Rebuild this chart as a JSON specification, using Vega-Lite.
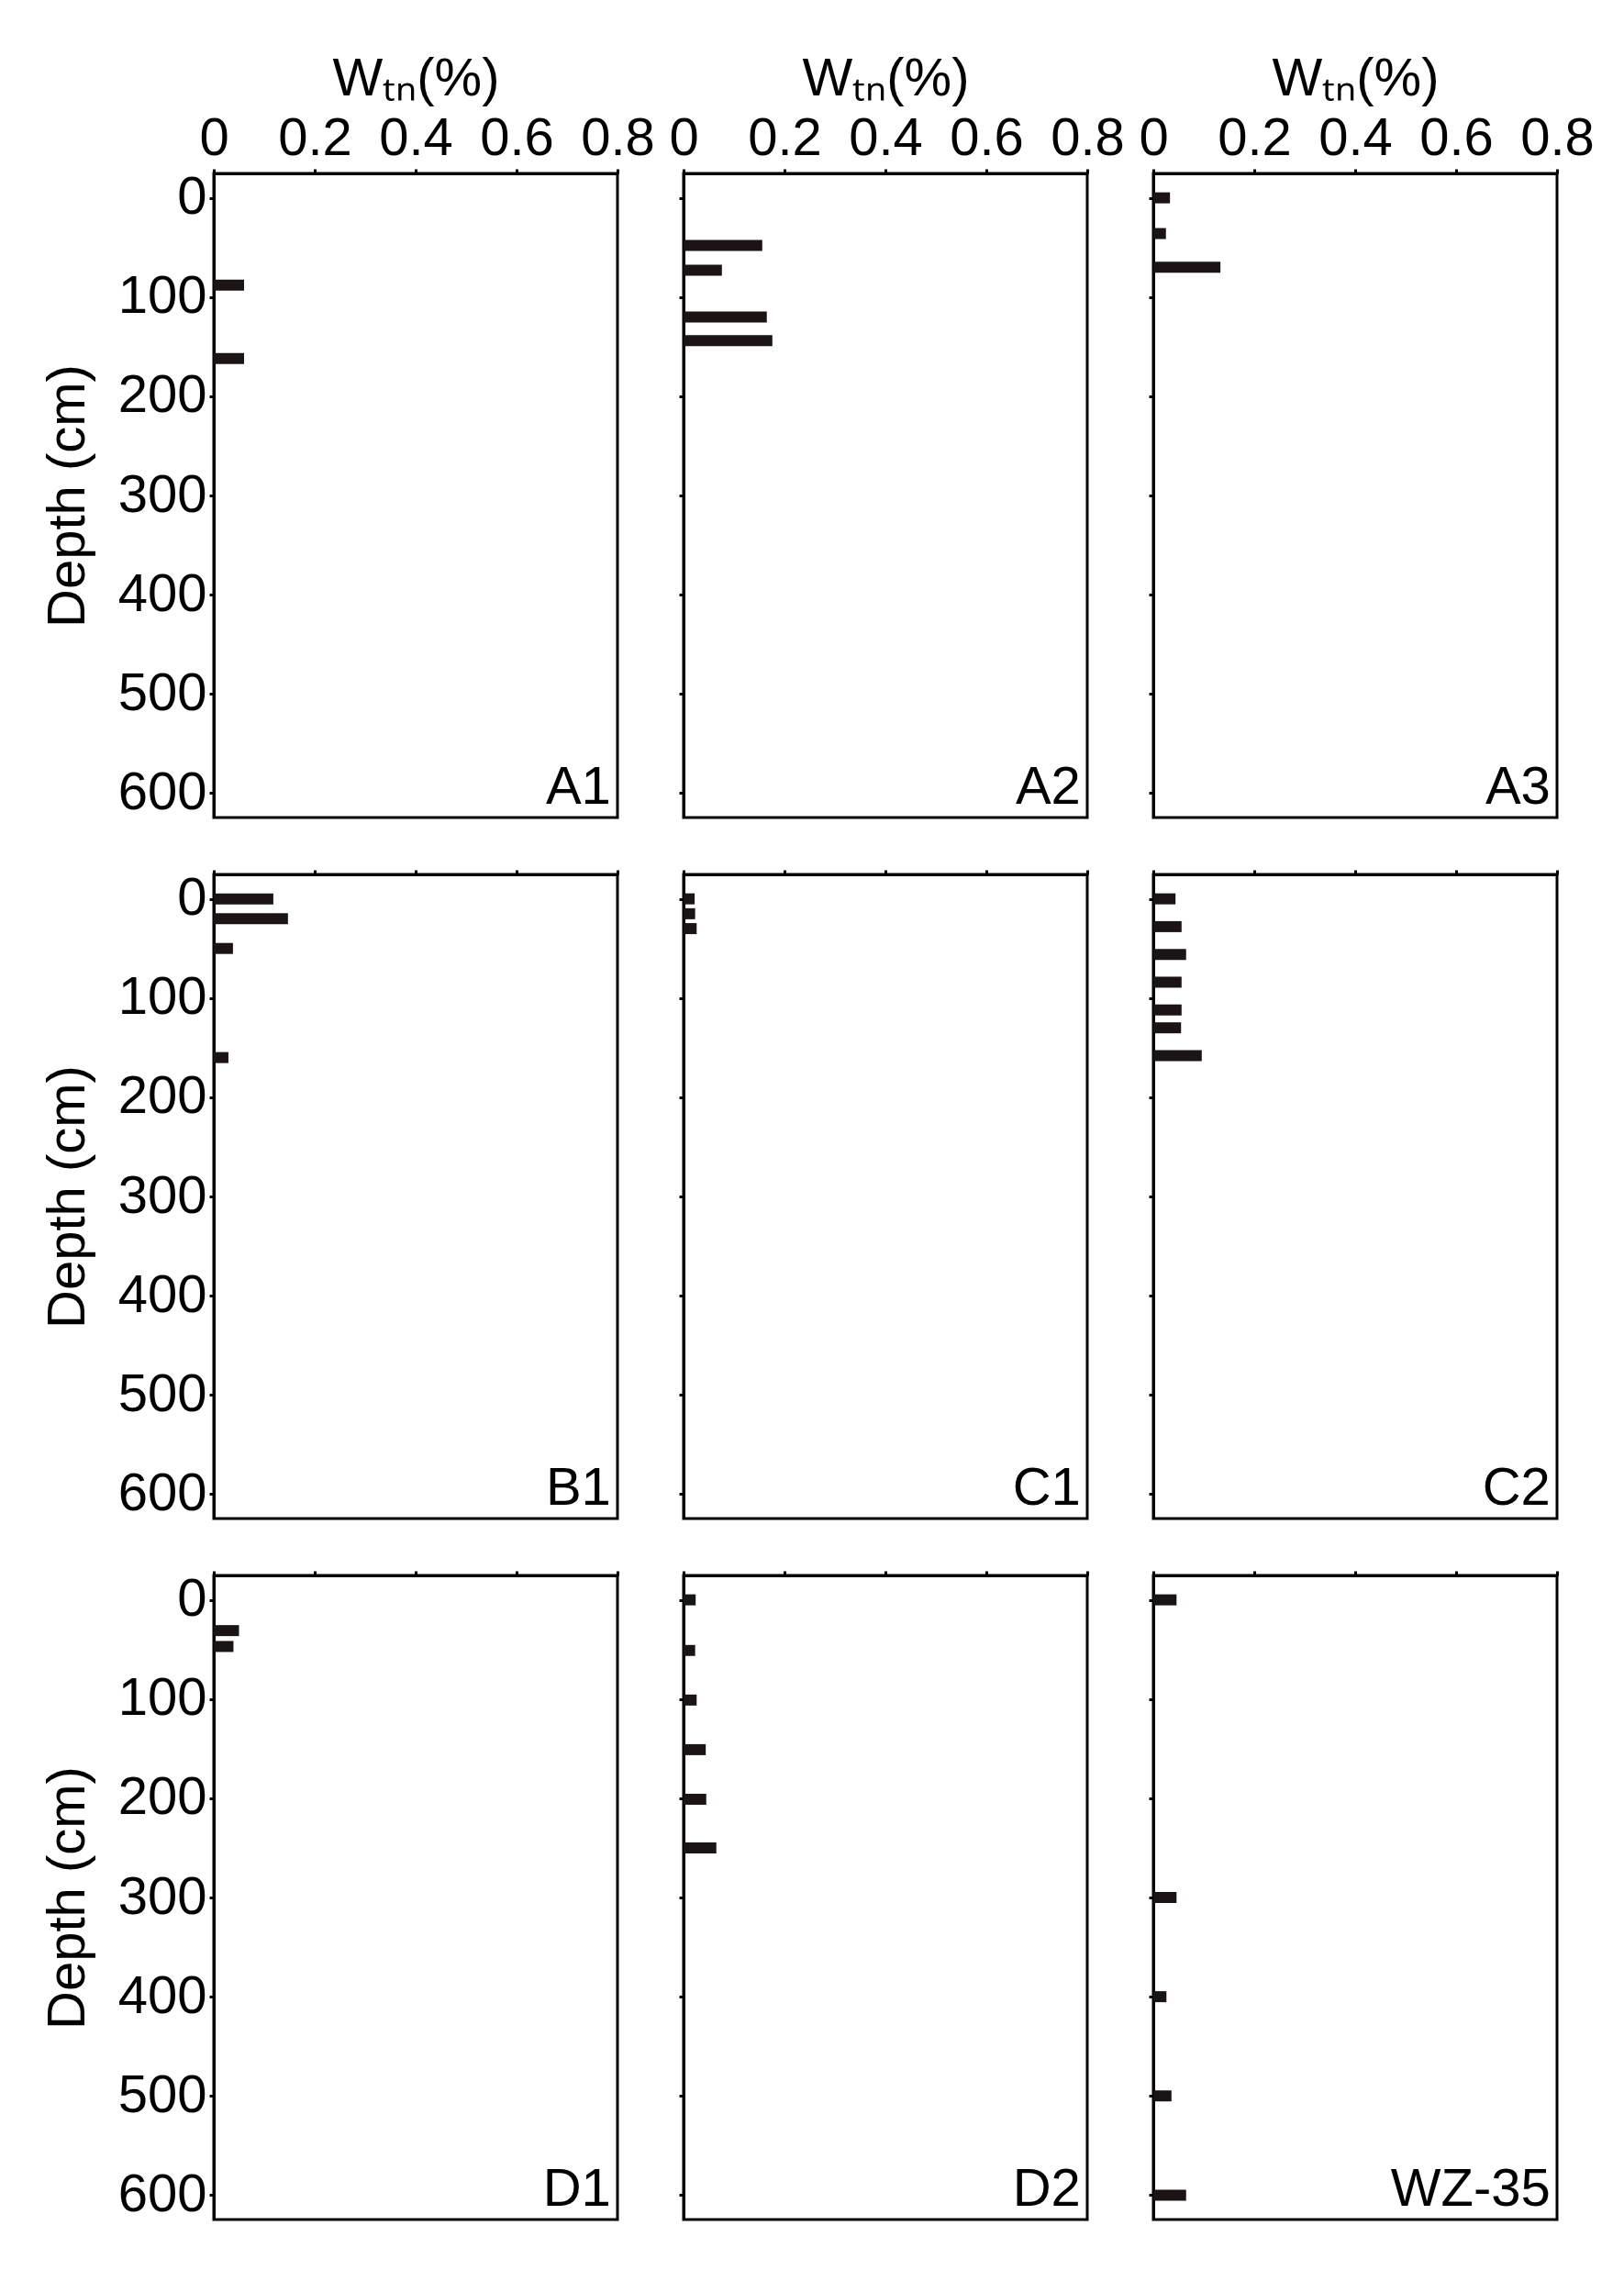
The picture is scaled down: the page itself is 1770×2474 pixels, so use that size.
{
  "$schema": "https://vega.github.io/schema/vega-lite/v6.json",
  "padding": {"left": 43, "top": 55, "right": 5, "bottom": 5},
  "background": "white",
  "datasets": {
    "bars": [
      {"core": "A1", "depth": 88, "wtn": 0.06},
      {"core": "A1", "depth": 162, "wtn": 0.06},
      {"core": "A2", "depth": 48, "wtn": 0.156},
      {"core": "A2", "depth": 73, "wtn": 0.076},
      {"core": "A2", "depth": 120, "wtn": 0.165},
      {"core": "A2", "depth": 144, "wtn": 0.176},
      {"core": "A3", "depth": 0, "wtn": 0.033},
      {"core": "A3", "depth": 36, "wtn": 0.025},
      {"core": "A3", "depth": 70, "wtn": 0.133},
      {"core": "B1", "depth": 0, "wtn": 0.118},
      {"core": "B1", "depth": 20, "wtn": 0.147},
      {"core": "B1", "depth": 50, "wtn": 0.038},
      {"core": "B1", "depth": 160, "wtn": 0.029},
      {"core": "C1", "depth": 0, "wtn": 0.022},
      {"core": "C1", "depth": 15, "wtn": 0.023},
      {"core": "C1", "depth": 30, "wtn": 0.026},
      {"core": "C2", "depth": 0, "wtn": 0.044},
      {"core": "C2", "depth": 28, "wtn": 0.056},
      {"core": "C2", "depth": 56, "wtn": 0.065},
      {"core": "C2", "depth": 84, "wtn": 0.056},
      {"core": "C2", "depth": 112, "wtn": 0.056},
      {"core": "C2", "depth": 130, "wtn": 0.055},
      {"core": "C2", "depth": 158, "wtn": 0.096},
      {"core": "D1", "depth": 31, "wtn": 0.05},
      {"core": "D1", "depth": 47, "wtn": 0.039},
      {"core": "D2", "depth": 0, "wtn": 0.024},
      {"core": "D2", "depth": 51, "wtn": 0.023},
      {"core": "D2", "depth": 101, "wtn": 0.026},
      {"core": "D2", "depth": 151, "wtn": 0.044},
      {"core": "D2", "depth": 201, "wtn": 0.045},
      {"core": "D2", "depth": 250, "wtn": 0.065},
      {"core": "WZ-35", "depth": 0, "wtn": 0.046},
      {"core": "WZ-35", "depth": 300, "wtn": 0.046},
      {"core": "WZ-35", "depth": 400, "wtn": 0.026},
      {"core": "WZ-35", "depth": 500, "wtn": 0.036},
      {"core": "WZ-35", "depth": 600, "wtn": 0.065}
    ],
    "labels": [
      {"core": "A1"}, {"core": "A2"}, {"core": "A3"},
      {"core": "B1"}, {"core": "C1"}, {"core": "C2"},
      {"core": "D1"}, {"core": "D2"}, {"core": "WZ-35"}
    ]
  },
  "columns": 3,
  "bounds": "flush",
  "spacing": {"row": 62, "column": 72},
  "concat": [
    {"width": 440, "height": 702, "layer": [
      {"data": {"name": "bars"}, "transform": [{"filter": "datum.core == 'A1'"}],
       "mark": {"type": "bar", "orient": "horizontal", "height": 12, "color": "#1c1414"},
       "encoding": {
         "x": {"field": "wtn", "type": "quantitative", "scale": {"domain": [0, 0.8], "nice": false}, "axis": {"orient": "top", "values": [0, 0.2, 0.4, 0.6, 0.8], "labelExpr": "datum.value == 0 ? '0' : format(datum.value, '.1f')", "title": "Wₜₙ(%)", "labelPadding": 4, "titlePadding": 7}},
         "y": {"field": "depth", "type": "quantitative", "scale": {"domain": [-20, 620], "reverse": true, "nice": false, "zero": false}, "axis": {"values": [0, 100, 200, 300, 400, 500, 600], "title": "Depth (cm)", "labelPadding": 3, "titlePadding": 25}}
       }},
      {"data": {"name": "labels"}, "transform": [{"filter": "datum.core == 'A1'"}],
       "mark": {"type": "text", "align": "right", "baseline": "alphabetic", "fontSize": 58, "font": "Liberation Sans", "color": "black"},
       "encoding": {"x": {"datum": 0.787, "type": "quantitative"}, "y": {"datum": 611, "type": "quantitative"}, "text": {"field": "core"}}}
    ]},
    {"width": 440, "height": 702, "layer": [
      {"data": {"name": "bars"}, "transform": [{"filter": "datum.core == 'A2'"}],
       "mark": {"type": "bar", "orient": "horizontal", "height": 12, "color": "#1c1414"},
       "encoding": {
         "x": {"field": "wtn", "type": "quantitative", "scale": {"domain": [0, 0.8], "nice": false}, "axis": {"orient": "top", "values": [0, 0.2, 0.4, 0.6, 0.8], "labelExpr": "datum.value == 0 ? '0' : format(datum.value, '.1f')", "title": "Wₜₙ(%)", "labelPadding": 4, "titlePadding": 7}},
         "y": {"field": "depth", "type": "quantitative", "scale": {"domain": [-20, 620], "reverse": true, "nice": false, "zero": false}, "axis": {"values": [0, 100, 200, 300, 400, 500, 600], "labels": false, "title": null}}
       }},
      {"data": {"name": "labels"}, "transform": [{"filter": "datum.core == 'A2'"}],
       "mark": {"type": "text", "align": "right", "baseline": "alphabetic", "fontSize": 58, "font": "Liberation Sans", "color": "black"},
       "encoding": {"x": {"datum": 0.787, "type": "quantitative"}, "y": {"datum": 611, "type": "quantitative"}, "text": {"field": "core"}}}
    ]},
    {"width": 440, "height": 702, "layer": [
      {"data": {"name": "bars"}, "transform": [{"filter": "datum.core == 'A3'"}],
       "mark": {"type": "bar", "orient": "horizontal", "height": 12, "color": "#1c1414"},
       "encoding": {
         "x": {"field": "wtn", "type": "quantitative", "scale": {"domain": [0, 0.8], "nice": false}, "axis": {"orient": "top", "values": [0, 0.2, 0.4, 0.6, 0.8], "labelExpr": "datum.value == 0 ? '0' : format(datum.value, '.1f')", "title": "Wₜₙ(%)", "labelPadding": 4, "titlePadding": 7}},
         "y": {"field": "depth", "type": "quantitative", "scale": {"domain": [-20, 620], "reverse": true, "nice": false, "zero": false}, "axis": {"values": [0, 100, 200, 300, 400, 500, 600], "labels": false, "title": null}}
       }},
      {"data": {"name": "labels"}, "transform": [{"filter": "datum.core == 'A3'"}],
       "mark": {"type": "text", "align": "right", "baseline": "alphabetic", "fontSize": 58, "font": "Liberation Sans", "color": "black"},
       "encoding": {"x": {"datum": 0.787, "type": "quantitative"}, "y": {"datum": 611, "type": "quantitative"}, "text": {"field": "core"}}}
    ]},
    {"width": 440, "height": 702, "layer": [
      {"data": {"name": "bars"}, "transform": [{"filter": "datum.core == 'B1'"}],
       "mark": {"type": "bar", "orient": "horizontal", "height": 12, "color": "#1c1414"},
       "encoding": {
         "x": {"field": "wtn", "type": "quantitative", "scale": {"domain": [0, 0.8], "nice": false}, "axis": {"orient": "top", "values": [0, 0.2, 0.4, 0.6, 0.8], "labels": false, "title": null}},
         "y": {"field": "depth", "type": "quantitative", "scale": {"domain": [-20, 620], "reverse": true, "nice": false, "zero": false}, "axis": {"values": [0, 100, 200, 300, 400, 500, 600], "title": "Depth (cm)", "labelPadding": 3, "titlePadding": 25}}
       }},
      {"data": {"name": "labels"}, "transform": [{"filter": "datum.core == 'B1'"}],
       "mark": {"type": "text", "align": "right", "baseline": "alphabetic", "fontSize": 58, "font": "Liberation Sans", "color": "black"},
       "encoding": {"x": {"datum": 0.787, "type": "quantitative"}, "y": {"datum": 611, "type": "quantitative"}, "text": {"field": "core"}}}
    ]},
    {"width": 440, "height": 702, "layer": [
      {"data": {"name": "bars"}, "transform": [{"filter": "datum.core == 'C1'"}],
       "mark": {"type": "bar", "orient": "horizontal", "height": 12, "color": "#1c1414"},
       "encoding": {
         "x": {"field": "wtn", "type": "quantitative", "scale": {"domain": [0, 0.8], "nice": false}, "axis": {"orient": "top", "values": [0, 0.2, 0.4, 0.6, 0.8], "labels": false, "title": null}},
         "y": {"field": "depth", "type": "quantitative", "scale": {"domain": [-20, 620], "reverse": true, "nice": false, "zero": false}, "axis": {"values": [0, 100, 200, 300, 400, 500, 600], "labels": false, "title": null}}
       }},
      {"data": {"name": "labels"}, "transform": [{"filter": "datum.core == 'C1'"}],
       "mark": {"type": "text", "align": "right", "baseline": "alphabetic", "fontSize": 58, "font": "Liberation Sans", "color": "black"},
       "encoding": {"x": {"datum": 0.787, "type": "quantitative"}, "y": {"datum": 611, "type": "quantitative"}, "text": {"field": "core"}}}
    ]},
    {"width": 440, "height": 702, "layer": [
      {"data": {"name": "bars"}, "transform": [{"filter": "datum.core == 'C2'"}],
       "mark": {"type": "bar", "orient": "horizontal", "height": 12, "color": "#1c1414"},
       "encoding": {
         "x": {"field": "wtn", "type": "quantitative", "scale": {"domain": [0, 0.8], "nice": false}, "axis": {"orient": "top", "values": [0, 0.2, 0.4, 0.6, 0.8], "labels": false, "title": null}},
         "y": {"field": "depth", "type": "quantitative", "scale": {"domain": [-20, 620], "reverse": true, "nice": false, "zero": false}, "axis": {"values": [0, 100, 200, 300, 400, 500, 600], "labels": false, "title": null}}
       }},
      {"data": {"name": "labels"}, "transform": [{"filter": "datum.core == 'C2'"}],
       "mark": {"type": "text", "align": "right", "baseline": "alphabetic", "fontSize": 58, "font": "Liberation Sans", "color": "black"},
       "encoding": {"x": {"datum": 0.787, "type": "quantitative"}, "y": {"datum": 611, "type": "quantitative"}, "text": {"field": "core"}}}
    ]},
    {"width": 440, "height": 702, "layer": [
      {"data": {"name": "bars"}, "transform": [{"filter": "datum.core == 'D1'"}],
       "mark": {"type": "bar", "orient": "horizontal", "height": 12, "color": "#1c1414"},
       "encoding": {
         "x": {"field": "wtn", "type": "quantitative", "scale": {"domain": [0, 0.8], "nice": false}, "axis": {"orient": "top", "values": [0, 0.2, 0.4, 0.6, 0.8], "labels": false, "title": null}},
         "y": {"field": "depth", "type": "quantitative", "scale": {"domain": [-20, 620], "reverse": true, "nice": false, "zero": false}, "axis": {"values": [0, 100, 200, 300, 400, 500, 600], "title": "Depth (cm)", "labelPadding": 3, "titlePadding": 25}}
       }},
      {"data": {"name": "labels"}, "transform": [{"filter": "datum.core == 'D1'"}],
       "mark": {"type": "text", "align": "right", "baseline": "alphabetic", "fontSize": 58, "font": "Liberation Sans", "color": "black"},
       "encoding": {"x": {"datum": 0.787, "type": "quantitative"}, "y": {"datum": 611, "type": "quantitative"}, "text": {"field": "core"}}}
    ]},
    {"width": 440, "height": 702, "layer": [
      {"data": {"name": "bars"}, "transform": [{"filter": "datum.core == 'D2'"}],
       "mark": {"type": "bar", "orient": "horizontal", "height": 12, "color": "#1c1414"},
       "encoding": {
         "x": {"field": "wtn", "type": "quantitative", "scale": {"domain": [0, 0.8], "nice": false}, "axis": {"orient": "top", "values": [0, 0.2, 0.4, 0.6, 0.8], "labels": false, "title": null}},
         "y": {"field": "depth", "type": "quantitative", "scale": {"domain": [-20, 620], "reverse": true, "nice": false, "zero": false}, "axis": {"values": [0, 100, 200, 300, 400, 500, 600], "labels": false, "title": null}}
       }},
      {"data": {"name": "labels"}, "transform": [{"filter": "datum.core == 'D2'"}],
       "mark": {"type": "text", "align": "right", "baseline": "alphabetic", "fontSize": 58, "font": "Liberation Sans", "color": "black"},
       "encoding": {"x": {"datum": 0.787, "type": "quantitative"}, "y": {"datum": 611, "type": "quantitative"}, "text": {"field": "core"}}}
    ]},
    {"width": 440, "height": 702, "layer": [
      {"data": {"name": "bars"}, "transform": [{"filter": "datum.core == 'WZ-35'"}],
       "mark": {"type": "bar", "orient": "horizontal", "height": 12, "color": "#1c1414"},
       "encoding": {
         "x": {"field": "wtn", "type": "quantitative", "scale": {"domain": [0, 0.8], "nice": false}, "axis": {"orient": "top", "values": [0, 0.2, 0.4, 0.6, 0.8], "labels": false, "title": null}},
         "y": {"field": "depth", "type": "quantitative", "scale": {"domain": [-20, 620], "reverse": true, "nice": false, "zero": false}, "axis": {"values": [0, 100, 200, 300, 400, 500, 600], "labels": false, "title": null}}
       }},
      {"data": {"name": "labels"}, "transform": [{"filter": "datum.core == 'WZ-35'"}],
       "mark": {"type": "text", "align": "right", "baseline": "alphabetic", "fontSize": 58, "font": "Liberation Sans", "color": "black"},
       "encoding": {"x": {"datum": 0.787, "type": "quantitative"}, "y": {"datum": 611, "type": "quantitative"}, "text": {"field": "core"}}}
    ]}
  ],
  "config": {
    "font": "Liberation Sans",
    "view": {"stroke": "black", "strokeWidth": 3},
    "axis": {
      "labelFont": "Liberation Sans", "titleFont": "Liberation Sans",
      "labelFontSize": 58, "titleFontSize": 58, "titleFontWeight": "normal",
      "labelColor": "black", "titleColor": "black",
      "domainColor": "black", "tickColor": "black",
      "domainWidth": 3, "tickWidth": 3, "tickSize": 5,
      "grid": false, "labelFlush": false, "labelOverlap": false, "labelBound": false
    }
  }
}
